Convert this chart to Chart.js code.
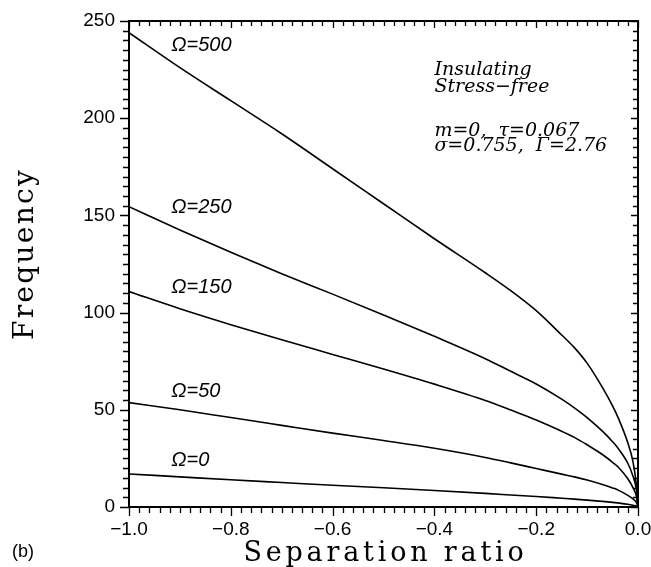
<!DOCTYPE html>
<html>
<head>
<meta charset="utf-8">
<script src="https://cdn.jsdelivr.net/npm/chart.js@4.4.1/dist/chart.umd.min.js"></script>
<style>
    html, body { margin: 0; padding: 0; background: #fff; }
    #chart { display: block; }
</style>
</head>
<body>
<canvas id="chart" width="651" height="567"></canvas>
<script>
// Separation ratio (x) shared by every curve
const separation = [-1, -0.9, -0.8, -0.7, -0.6, -0.5, -0.4, -0.3, -0.25, -0.2, -0.15, -0.125, -0.1, -0.07, -0.05, -0.04, -0.02, -0.01, -0.003, 0];

// Frequency, one array per rotation rate
const omega500 = [244, 226, 209, 192, 174, 156, 138, 120.5, 111.3, 101, 88.5, 82, 74, 61.5, 52, 46.5, 33, 23.5, 11, 0];
const omega250 = [154.5, 142.5, 131, 120, 109.5, 98.8, 87.8, 76.3, 69.8, 63.3, 55.5, 51, 46, 39, 33.6, 30.5, 22.5, 16, 8.5, 0];
const omega150 = [110.8, 102, 93.8, 86, 78.5, 71, 63.2, 54.8, 49.9, 44.8, 39, 35.8, 32, 27, 23, 20.8, 14.5, 10, 5.4, 0];
const omega50 = [53.7, 50, 46, 42, 38, 34.2, 30.2, 25.5, 22.7, 19.8, 16.9, 15.5, 13.9, 11.6, 9.8, 8.8, 6, 4.2, 2.3, 0];
const omega0 = [17, 15.5, 14, 12.6, 11.2, 9.9, 8.5, 7, 6.2, 5.4, 4.5, 4.05, 3.55, 2.9, 2.4, 2.1, 1.4, 0.9, 0.45, 0];

const curveNames = ['\u03A9=500', '\u03A9=250', '\u03A9=150', '\u03A9=50', '\u03A9=0'];
const curves = [omega500, omega250, omega150, omega50, omega0];

// tick labels
const xTickLabels = ['\u22121.0', '\u22120.8', '\u22120.6', '\u22120.4', '\u22120.2', '0.0'];
const yTickLabels = ['0', '50', '100', '150', '200', '250'];

// curve labels sit at these (ratio, frequency) spots
const labelX = -0.917;
const labelY = [237.6, 154, 113, 59.4, 23.7];

const noteLines = ['Insulating', 'Stress\u2212free', 'm=0,  \u03C4=0.067', '\u03C3=0.755,  \u0393=2.76'];

function tickText(v) {
    const idx = Math.round((v + 1) / 0.2);
    return xTickLabels[idx];
}

const datasets = curves.map((ys, i) => ({
    label: curveNames[i],
    data: separation.map((x, j) => ({ x: x, y: ys[j] })),
    borderColor: '#000',
    borderWidth: 1.6,
    pointRadius: 0,
    fill: false,
    cubicInterpolationMode: 'monotone'
}));

// frame, ticks, titles and labels drawn on top of the plot
const decorations = {
    id: 'decorations',
    afterDraw(chart) {
        const ctx = chart.ctx;
        const area = chart.chartArea;
        const xs = chart.scales.x;
        const ys = chart.scales.y;
        ctx.save();
        ctx.strokeStyle = '#000';
        ctx.fillStyle = '#000';

        ctx.lineWidth = 2;
        ctx.strokeRect(area.left, area.top, area.right - area.left, area.bottom - area.top);

        ctx.lineWidth = 1.3;
        ctx.beginPath();
        for (let i = 0; i <= 50; i++) {
            const px = Math.round(xs.getPixelForValue(-1 + i * 0.02)) + 0.5;
            const major = i % 10 === 0;
            ctx.moveTo(px, area.bottom);
            ctx.lineTo(px, area.bottom + (major ? 9 : 6));
            ctx.moveTo(px, area.top);
            ctx.lineTo(px, area.top + (major ? 7 : 5));
        }
        for (let i = 0; i <= 50; i++) {
            const py = Math.round(ys.getPixelForValue(i * 5)) + 0.5;
            const major = i % 10 === 0;
            ctx.moveTo(area.left, py);
            ctx.lineTo(area.left - (major ? 9 : 6), py);
            ctx.moveTo(area.right, py);
            ctx.lineTo(area.right - (major ? 7 : 5), py);
        }
        ctx.stroke();

        // axis titles
        ctx.font = '27px "DejaVu Serif"';
        ctx.letterSpacing = '3.8px';
        ctx.textAlign = 'center';
        ctx.textBaseline = 'alphabetic';
        ctx.fillText('Separation ratio', (area.left + area.right) / 2 + 2, 561);

        ctx.save();
        ctx.font = '28px "DejaVu Serif"';
        ctx.letterSpacing = '2.3px';
        ctx.translate(33, 254);
        ctx.rotate(-Math.PI / 2);
        ctx.fillText('Frequency', 0, 0);
        ctx.restore();
        ctx.letterSpacing = '0px';

        // curve labels
        ctx.font = 'italic 20px "Liberation Sans"';
        ctx.textAlign = 'left';
        ctx.textBaseline = 'middle';
        curveNames.forEach((name, i) => {
            ctx.fillText(name, xs.getPixelForValue(labelX), ys.getPixelForValue(labelY[i]));
        });

        // parameter note
        ctx.font = 'italic 19px "DejaVu Serif"';
        const noteLeft = xs.getPixelForValue(-0.4);
        const noteOffsets = [49, 66, 110, 125];
        noteLines.forEach((line, i) => {
            ctx.fillText(line, noteLeft, area.top + noteOffsets[i]);
        });

        ctx.font = '18px "Liberation Sans"';
        ctx.fillText('(b)', 12, 552);
        ctx.restore();
    }
};

new Chart(document.getElementById('chart'), {
    type: 'line',
    data: { datasets: datasets },
    options: {
        responsive: false,
        animation: false,
        devicePixelRatio: 1,
        layout: { padding: { top: 21, right: 0, left: 0, bottom: 0 } },
        plugins: {
            legend: { display: false },
            tooltip: { enabled: false }
        },
        scales: {
            x: {
                type: 'linear',
                min: -1,
                max: 0,
                grid: { display: false },
                border: { display: false },
                ticks: {
                    stepSize: 0.2,
                    autoSkip: false,
                    maxRotation: 0,
                    padding: 3,
                    color: '#000',
                    font: { family: 'Liberation Sans', size: 19 },
                    callback: (v) => tickText(v)
                },
                afterFit(scale) {
                    scale.height = 60;
                    scale.paddingRight = 13;
                }
            },
            y: {
                min: 0,
                max: 250,
                grid: { display: false },
                border: { display: false },
                ticks: {
                    stepSize: 50,
                    padding: 6,
                    color: '#000',
                    font: { family: 'Liberation Sans', size: 19 },
                    callback: (v) => yTickLabels[Math.round(v / 50)]
                },
                afterFit(scale) { scale.width = 129; }
            }
        }
    },
    plugins: [decorations]
});
</script>
</body>
</html>
